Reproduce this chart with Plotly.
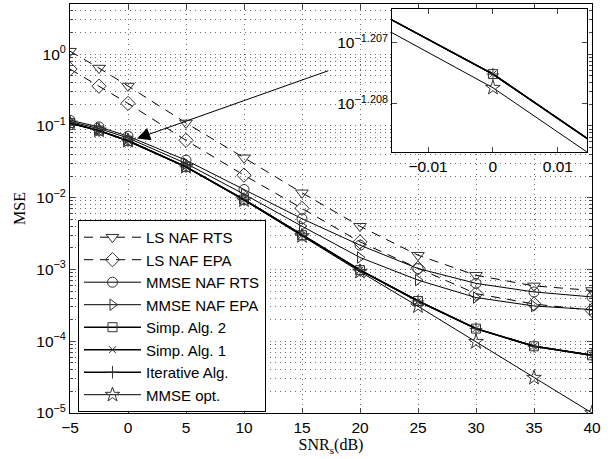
import plotly.graph_objects as go
import math

snr = [-5, -2.5, 0, 5, 10, 15, 20, 25, 30, 35, 40]

ls_naf_rts = [1.1, 0.64, 0.36, 0.110, 0.036, 0.0117, 0.0040, 0.00158, 0.00083, 0.00059, 0.00051]
ls_naf_epa = [0.62, 0.358, 0.206, 0.063, 0.0206, 0.0071, 0.00242, 0.00104, 0.00046, 0.00033, 0.00027]
mmse_naf_rts = [0.12, 0.097, 0.072, 0.0333, 0.0130, 0.0051, 0.00218, 0.00103, 0.00064, 0.000486, 0.000414]
mmse_naf_epa = [0.115, 0.092, 0.068, 0.030, 0.0112, 0.0040, 0.00147, 0.00071, 0.000406, 0.00031, 0.000276]
simp_alg2 = [0.110, 0.08606, 0.062014, 0.026885, 0.0094, 0.0030, 0.00098, 0.000364, 0.000150, 0.000085, 0.0000637]
simp_alg1 = [0.110, 0.08606, 0.062014, 0.026885, 0.0094, 0.0030, 0.00098, 0.000364, 0.000150, 0.000085, 0.0000637]
iterative = [0.110, 0.08606, 0.062014, 0.026885, 0.0094, 0.0030, 0.00098, 0.000364, 0.000150, 0.000085, 0.0000637]
mmse_opt = [0.108, 0.08654, 0.061982, 0.026873, 0.0092, 0.00292, 0.00093, 0.000307, 0.000098, 0.000031, 0.0000100]

names = ["LS NAF RTS", "LS NAF EPA", "MMSE NAF RTS", "MMSE NAF EPA",
         "Simp. Alg. 2", "Simp. Alg. 1", "Iterative Alg.", "MMSE opt."]
series = [ls_naf_rts, ls_naf_epa, mmse_naf_rts, mmse_naf_epa,
          simp_alg2, simp_alg1, iterative, mmse_opt]
symbols = ["triangle-down-open", "diamond-open", "circle-open", "triangle-right-open",
           "square-open", "x-thin-open", "cross-thin-open", "star-open"]
dashes = ["9px,7px", "9px,7px", "solid", "solid", "solid", "solid", "solid", "solid"]
widths = [1, 1, 1, 1, 1.5, 1.5, 1.5, 1]
msizes = [11, 11, 10, 10, 9, 7, 9, 11]

y_major = [1e-5, 1e-4, 1e-3, 1e-2, 1e-1, 1]
y_major_text = ["10<sup>\u22125</sup>", "10<sup>\u22124</sup>", "10<sup>\u22123</sup>",
                "10<sup>\u22122</sup>", "10<sup>\u22121</sup>", "10<sup>0</sup>"]
y_minor = [k * 10.0 ** n for n in range(-5, 1) for k in range(2, 10)]
x_ticks = [-5, 0, 5, 10, 15, 20, 25, 30, 35, 40]

inset_x_ticks = [-0.01, 0, 0.01]
inset_x_text = ["\u22120.01", "0", "0.01"]
inset_y_ticks = [10 ** -1.208, 10 ** -1.207]
inset_y_text = ["10<sup>\u22121.208</sup>", "10<sup>\u22121.207</sup>"]

fig = go.Figure()
for nm, ys, sym, dsh, w, ms in zip(names, series, symbols, dashes, widths, msizes):
    fig.add_trace(go.Scatter(
        x=snr, y=ys, name=nm, mode="lines+markers",
        line=dict(color="black", width=w, dash=dsh),
        marker=dict(symbol=sym, size=ms, color="#333333", line=dict(width=1, color="#333333")),
        xaxis="x", yaxis="y"))

# inset traces
for nm, ys, sym, w, ms in zip(names[4:], series[4:], symbols[4:], widths[4:], msizes[4:]):
    fig.add_trace(go.Scatter(
        x=snr, y=ys, name=nm, mode="lines+markers", showlegend=False,
        line=dict(color="black", width=w),
        marker=dict(symbol=sym, size=ms, color="#333333", line=dict(width=1, color="#333333")),
        xaxis="x2", yaxis="y2"))

tickfont = dict(family="Liberation Sans, Arial, sans-serif", size=15.5, color="black")
gridstyle = dict(gridcolor="#6a6a6a", griddash="1px,4px", gridwidth=1)

fig.update_layout(
    width=616, height=459,
    margin=dict(l=70, r=24, t=4, b=46),
    paper_bgcolor="white", plot_bgcolor="white",
    showlegend=True,
    legend=dict(x=0.0153, y=0.472, xanchor="left", yanchor="top",
                bgcolor="white", bordercolor="black", borderwidth=1,
                font=dict(family="Liberation Sans, Arial, sans-serif", size=15, color="black"),
                itemwidth=57, tracegroupgap=0),
    xaxis=dict(range=[-5, 40], tickvals=x_ticks, ticks="inside", ticklen=5,
               showline=True, linecolor="black", linewidth=1, mirror="ticks",
               showgrid=True, zeroline=False, tickfont=tickfont,
               title=dict(text="SNR<sub>s</sub>(dB)", standoff=4,
                          font=dict(family="Liberation Serif, Times New Roman, serif", size=16, color="black")),
               **gridstyle),
    yaxis=dict(type="log", range=[-5, math.log10(5)], tickvals=y_major, ticktext=y_major_text,
               ticks="inside", ticklen=5,
               showline=True, linecolor="black", linewidth=1, mirror="ticks",
               showgrid=True, zeroline=False, tickfont=tickfont,
               minor=dict(tickmode="array", tickvals=y_minor, ticks="inside", ticklen=3,
                          showgrid=True, gridcolor="#6a6a6a", griddash="1px,4px", gridwidth=1),
               title=dict(text="MSE", standoff=6,
                          font=dict(family="Liberation Serif, Times New Roman, serif", size=16, color="black")),
               **gridstyle),
    xaxis2=dict(domain=[0.617, 0.990], anchor="y2", range=[-0.01554, 0.01446],
                tickvals=inset_x_ticks, ticktext=inset_x_text, ticks="inside", ticklen=5,
                showline=True, linecolor="black", linewidth=1, mirror="ticks",
                showgrid=False, zeroline=False, tickfont=tickfont),
    yaxis2=dict(domain=[0.638, 0.988], anchor="x2", type="log",
                range=[-1.208787, -1.206443], tickvals=inset_y_ticks, ticktext=inset_y_text,
                ticks="inside", ticklen=5,
                showline=True, linecolor="black", linewidth=1, mirror="ticks",
                showgrid=False, zeroline=False, tickfont=tickfont),
    shapes=[dict(type="rect", xref="paper", yref="paper", x0=0.617, x1=0.990, y0=0.638, y1=0.988,
                 fillcolor="white", line=dict(width=0), layer="between")],
    annotations=[dict(x=0.78, y=math.log10(0.0668), xref="x", yref="y",
                      ax=17.4, ay=math.log10(0.598), axref="x", ayref="y",
                      text="", showarrow=True, arrowhead=2, arrowsize=2.6, arrowwidth=1,
                      arrowcolor="black")],
)

fig.write_html("out.html")
